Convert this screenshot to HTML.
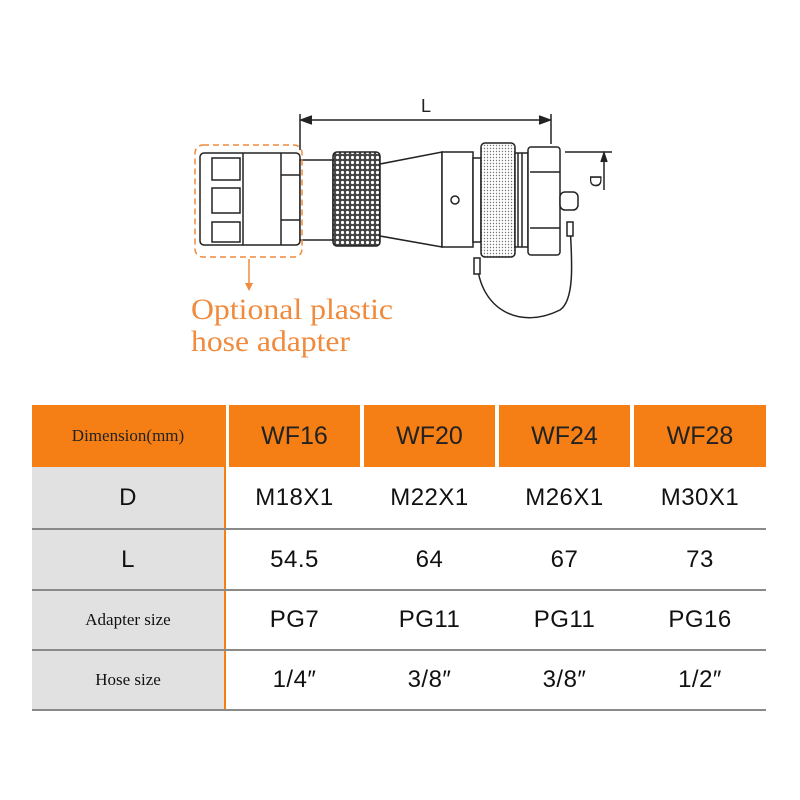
<!DOCTYPE html>
<html><head><meta charset="utf-8"><style>
body{margin:0;background:#fff;width:800px;height:800px;position:relative;overflow:hidden;font-family:"Liberation Sans",sans-serif}
.c{position:absolute;display:flex;align-items:center;justify-content:center;color:#111}
.h{background:#f57f14;font-size:25px;color:#222}
.g{background:#e1e1e1}
.ln{position:absolute;height:2px;background:#8a8a8a;left:32px;width:734px}
.v{font-size:24px;letter-spacing:0.5px}
.s{font-family:"Liberation Serif",serif;font-size:17px}
</style></head><body>
<svg width="800" height="400" style="position:absolute;left:0;top:0">
<defs>
<pattern id="dk" width="5" height="5" patternUnits="userSpaceOnUse"><rect width="5" height="5" fill="#444"/><circle cx="2.5" cy="2.5" r="1.6" fill="#fff"/></pattern>
<pattern id="lt" width="3" height="3" patternUnits="userSpaceOnUse"><rect width="3" height="3" fill="#fff"/><circle cx="1.5" cy="1.5" r="0.7" fill="#777"/></pattern>
</defs>
<g stroke="#222" stroke-width="1.5" fill="none">
<line x1="300" y1="114" x2="300" y2="150"/><line x1="551" y1="114" x2="551" y2="144"/>
<line x1="301" y1="120" x2="550" y2="120"/>
<polyline points="312,116 301,120 312,124" fill="#222"/><polyline points="539,116 550,120 539,124" fill="#222"/>
<line x1="565" y1="152" x2="612" y2="152"/>
<line x1="604" y1="153" x2="604" y2="190"/><polyline points="601,162 604,153 607,162" fill="#222"/>
<rect x="200" y="153" width="100" height="92" rx="4" fill="#fff"/>
<line x1="243" y1="153" x2="243" y2="245"/><line x1="281" y1="153" x2="281" y2="245"/>
<rect x="212" y="158" width="28" height="22"/><rect x="212" y="188" width="28" height="25"/><rect x="212" y="222" width="28" height="20"/>
<line x1="281" y1="175" x2="300" y2="175"/><line x1="281" y1="220" x2="300" y2="220"/>
<rect x="300" y="160" width="33" height="80" fill="#fff"/>
<rect x="333" y="152" width="47" height="94" rx="4" fill="url(#dk)"/>
<polygon points="380,164 442,152 442,247 380,236" fill="#fff"/>
<rect x="442" y="152" width="31" height="95" fill="#fff"/>
<circle cx="455" cy="200" r="4"/>
<rect x="473" y="158" width="8" height="84" fill="#fff"/>
<rect x="481" y="143" width="34" height="114" rx="4" fill="url(#lt)"/>
<rect x="515" y="153" width="13" height="94" fill="#fff"/>
<line x1="518" y1="153" x2="518" y2="247"/><line x1="522" y1="153" x2="522" y2="247"/>
<rect x="528" y="147" width="32" height="108" rx="3" fill="#fff"/>
<line x1="530" y1="172" x2="560" y2="172"/><line x1="530" y1="228" x2="560" y2="228"/>
<rect x="560" y="192" width="18" height="18" rx="5" fill="#fff"/>
<path d="M477,262 C480,310 520,330 560,310 C575,300 572,260 570,225"/>
<rect x="474" y="258" width="6" height="16" fill="#fff"/><rect x="567" y="222" width="6" height="14" fill="#fff"/>
</g>
<rect x="195" y="145" width="107" height="112" rx="8" fill="none" stroke="#f08a3c" stroke-width="1.5" stroke-dasharray="6,4"/>
<line x1="249" y1="259" x2="249" y2="284" stroke="#f08a3c" stroke-width="1.5"/>
<polygon points="245,283 253,283 249,291" fill="#f08a3c"/>
<text x="426" y="112" font-size="18" font-family="Liberation Sans" text-anchor="middle" fill="#222">L</text>
<text transform="translate(590,181) rotate(90)" font-size="17" font-family="Liberation Sans" text-anchor="middle" fill="#222">D</text>
<text x="191" y="319" font-size="30" font-family="Liberation Serif" fill="#f08a3c" textLength="202" lengthAdjust="spacingAndGlyphs">Optional plastic</text>
<text x="191" y="351" font-size="30" font-family="Liberation Serif" fill="#f08a3c" textLength="159" lengthAdjust="spacingAndGlyphs">hose adapter</text>
</svg>
<div class="c h s" style="left:32px;top:405px;width:192px;height:62px;font-size:17px">Dimension(mm)</div>
<div class="c h" style="left:229px;top:405px;width:131px;height:62px">WF16</div>
<div class="c h" style="left:364px;top:405px;width:131px;height:62px">WF20</div>
<div class="c h" style="left:499px;top:405px;width:131px;height:62px">WF24</div>
<div class="c h" style="left:634px;top:405px;width:132px;height:62px">WF28</div>
<div class="g" style="position:absolute;left:32px;top:467px;width:192px;height:243px"></div>
<div style="position:absolute;left:224px;top:405px;width:2px;height:305px;background:#f57f14"></div>
<div class="ln" style="top:528px"></div><div class="ln" style="top:589px"></div><div class="ln" style="top:649px"></div><div class="ln" style="top:709px"></div>
<div class="c v" style="left:32px;top:467px;width:192px;height:62px">D</div>
<div class="c v" style="left:32px;top:529px;width:192px;height:61px">L</div>
<div class="c s" style="left:32px;top:590px;width:192px;height:60px">Adapter size</div>
<div class="c s" style="left:32px;top:650px;width:192px;height:60px">Hose size</div>
<div class="c v" style="left:229px;top:467px;width:131px;height:62px">M18X1</div>
<div class="c v" style="left:364px;top:467px;width:131px;height:62px">M22X1</div>
<div class="c v" style="left:499px;top:467px;width:131px;height:62px">M26X1</div>
<div class="c v" style="left:634px;top:467px;width:132px;height:62px">M30X1</div>
<div class="c v" style="left:229px;top:529px;width:131px;height:61px">54.5</div>
<div class="c v" style="left:364px;top:529px;width:131px;height:61px">64</div>
<div class="c v" style="left:499px;top:529px;width:131px;height:61px">67</div>
<div class="c v" style="left:634px;top:529px;width:132px;height:61px">73</div>
<div class="c v" style="left:229px;top:590px;width:131px;height:60px">PG7</div>
<div class="c v" style="left:364px;top:590px;width:131px;height:60px">PG11</div>
<div class="c v" style="left:499px;top:590px;width:131px;height:60px">PG11</div>
<div class="c v" style="left:634px;top:590px;width:132px;height:60px">PG16</div>
<div class="c v" style="left:229px;top:650px;width:131px;height:60px">1/4″</div>
<div class="c v" style="left:364px;top:650px;width:131px;height:60px">3/8″</div>
<div class="c v" style="left:499px;top:650px;width:131px;height:60px">3/8″</div>
<div class="c v" style="left:634px;top:650px;width:132px;height:60px">1/2″</div>
</body></html>
